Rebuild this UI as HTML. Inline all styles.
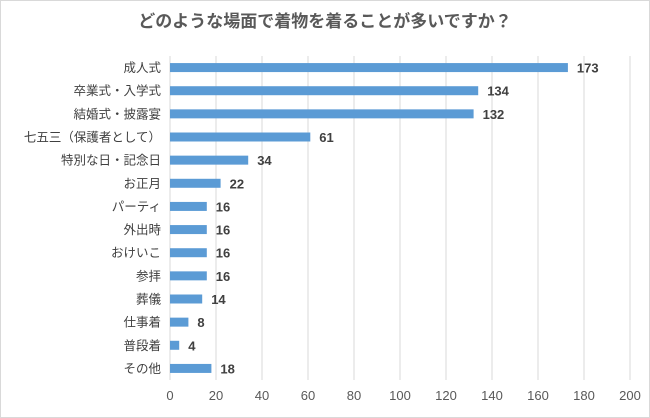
<!DOCTYPE html>
<html><head><meta charset="utf-8"><style>
body{margin:0;background:#fff}
svg{display:block;font-family:"Liberation Sans","Noto Sans CJK JP",sans-serif}
</style></head><body>
<svg id="c" width="650" height="418">
<rect x="0.5" y="0.5" width="649" height="417" fill="#fff" stroke="#d9d9d9"/>
<text x="325" y="27" text-anchor="middle" font-size="17" font-weight="bold" fill="#595959">どのような場面で着物を着ることが多いですか？</text>
<g id="grid"></g><g id="bars"></g><g id="labels"></g>
</svg>
<script>
const categories=["成人式","卒業式・入学式","結婚式・披露宴","七五三（保護者として）","特別な日・記念日","お正月","パーティ","外出時","おけいこ","参拝","葬儀","仕事着","普段着","その他"];
const values=[173,134,132,61,34,22,16,16,16,16,14,8,4,18];
const ticks=[0,20,40,60,80,100,120,140,160,180,200];
const NS="http://www.w3.org/2000/svg";
const x0=170,x1=630,yTop=56,yBot=380,maxV=200;
const xs=v=>x0+(x1-x0)*v/maxV;
const band=(yBot-yTop)/categories.length;
const yc=i=>yTop+band*(i+0.5);
function mk(t,a,p){const e=document.createElementNS(NS,t);for(const k in a)e.setAttribute(k,a[k]);p.appendChild(e);return e;}
const g=document.getElementById('grid'),b=document.getElementById('bars'),l=document.getElementById('labels');
ticks.forEach(t=>{
 const ln=mk('line',{x1:xs(t),x2:xs(t),y1:yTop,y2:yBot,stroke:'#d9d9d9','stroke-width':1},g);
 
 
 const tx=mk('text',{x:xs(t),y:400,'text-anchor':'middle','font-size':13,fill:'#595959'},l);
 tx.textContent=t;
 
 
});
categories.forEach((c,i)=>{
 const y=yc(i);
 const r=mk('rect',{x:xs(0),y:y-4.5,width:xs(values[i])-xs(0),height:9,fill:'#5b9bd5'},b);
 
 
 const ct=mk('text',{x:161,y:y+4.5,'text-anchor':'end','font-size':12.5,fill:'#404040'},l);
 ct.textContent=c;
 
 
 const vt=mk('text',{x:xs(values[i])+9,y:y+5,'font-size':13,'font-weight':'bold',fill:'#404040'},l);
 vt.textContent=values[i];
 
 
});
</script>
</body></html>
